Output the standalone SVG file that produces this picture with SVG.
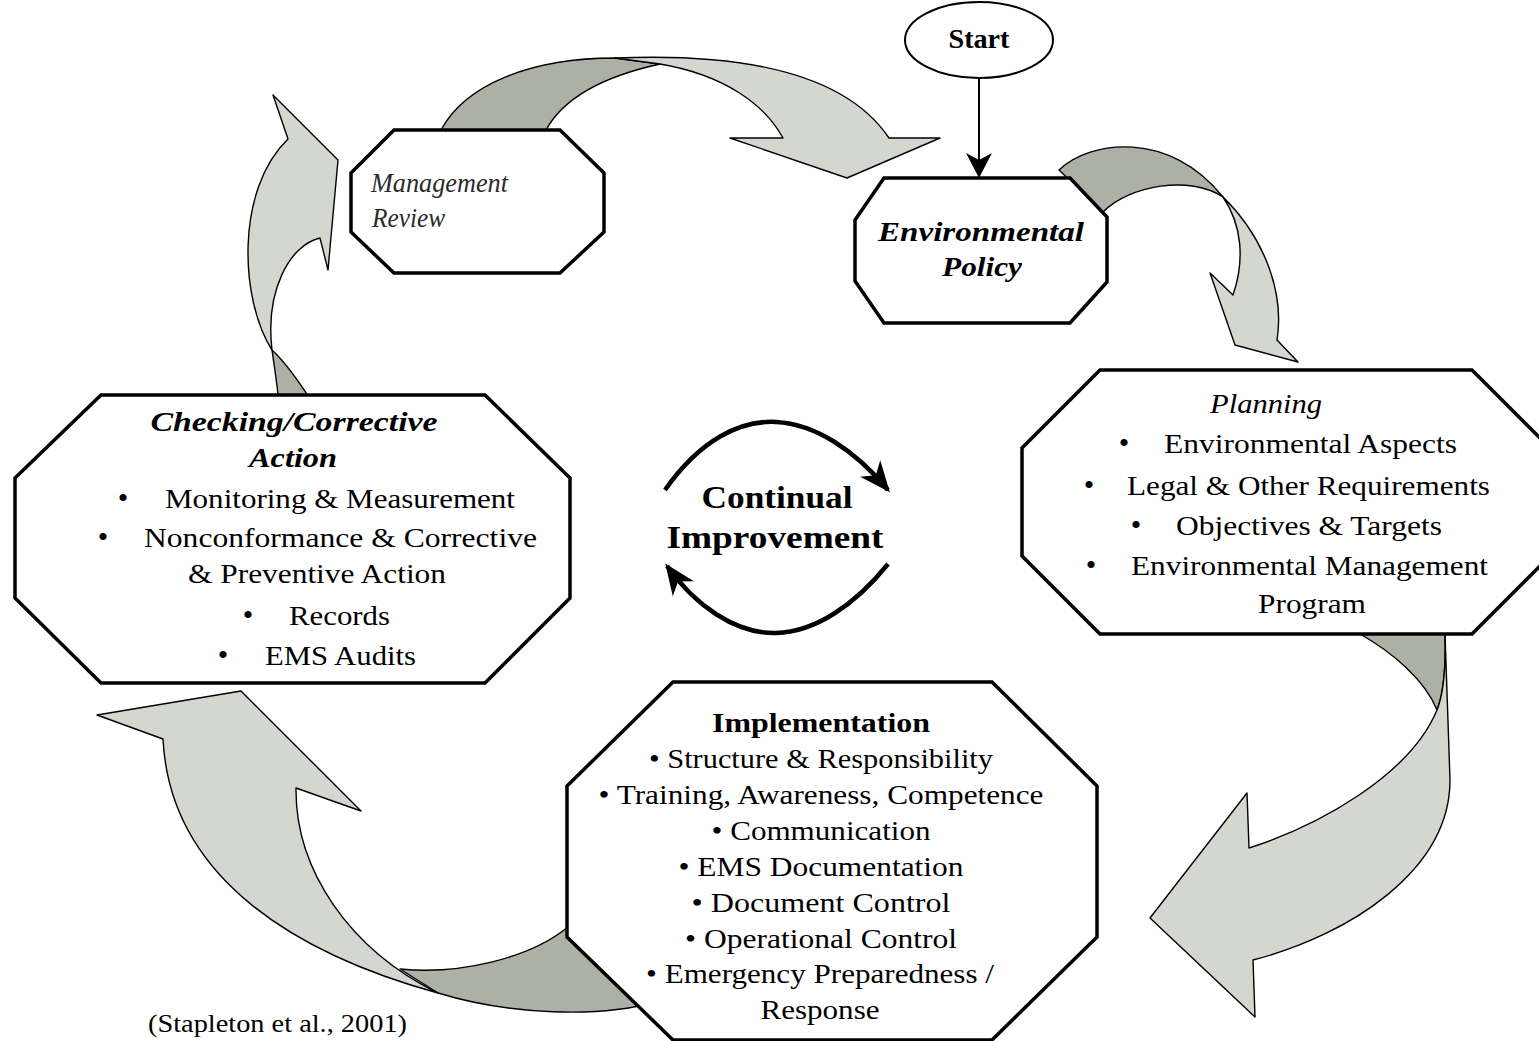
<svg xmlns="http://www.w3.org/2000/svg" width="1539" height="1041" viewBox="0 0 1539 1041">
<style>
  .oct{fill:#fff;stroke:#000;stroke-width:3.5;stroke-linejoin:miter}
  .rl{fill:#d4d6d0;stroke:#000;stroke-width:1.4;stroke-linejoin:round}
  .rd{fill:#adb0a5;stroke:#000;stroke-width:1.4;stroke-linejoin:round}
  text{font-family:"Liberation Serif","Times New Roman",serif;fill:#000}
  .t{font-size:28px}
  .b{font-weight:bold}
  .i{font-style:italic}
  .c{text-anchor:middle}
  .grey{fill:#2a2a2a}
  .bul{font-size:30px;text-anchor:middle}
  .cyc{fill:none;stroke:#000;stroke-width:4.5;marker-end:url(#head)}
</style>
<defs>
  <marker id="head" markerUnits="userSpaceOnUse" viewBox="-32 -16 36 32" markerWidth="36" markerHeight="32" refX="0" refY="0" orient="auto">
    <path d="M3,0 L-28,-13 L-19,0 L-28,13 Z" fill="#000"/>
  </marker>
  <marker id="head-s" markerUnits="userSpaceOnUse" viewBox="-26 -14 30 28" markerWidth="30" markerHeight="28" refX="0" refY="0" orient="auto">
    <path d="M2,0 L-23,-13 L-16,0 L-23,13 Z" fill="#000"/>
  </marker>
</defs>
<rect width="1539" height="1041" fill="#fff"/>

<!-- connectors: ribbon block arrows (back face dark, front face light) and the start arrow -->
<g id="connectors">
  <g id="arrow-review-to-policy">
    <path class="rd" d="M441,136 L441,130 C465,85 530,58 615,58 L660,64 C610,75 565,95 546,130 L546,136 Z"/>
    <path class="rl" d="M615,58 C760,52 850,80 889,138 L940,138 L847,178 L730,138 L783,138 C765,105 725,75 660,64 Z"/>
  </g>
  <g id="arrow-policy-to-planning">
    <path class="rd" d="M1059,170 C1090,140 1170,130 1223,197 C1190,175 1130,185 1103,212 Z"/>
    <path class="rl" d="M1223,197 C1262,235 1285,290 1277,340 L1298,362 L1235,345 L1210,273 L1233,295 C1245,260 1242,225 1223,197 Z"/>
  </g>
  <g id="arrow-planning-to-implementation">
    <path class="rd" d="M1360,628 L1360,634 C1392,652 1425,680 1437,710 C1443,695 1446,670 1445,634 L1445,628 Z"/>
    <path class="rl" d="M1445,634 L1450,780 C1450,870 1350,935 1253,960 L1255,1017 L1150,918 L1247,793 L1249,848 C1320,825 1410,775 1437,710 C1443,695 1446,670 1445,634 Z"/>
  </g>
  <g id="arrow-implementation-to-checking">
    <path class="rd" d="M400,969 C460,975 530,958 568,927 L620,900 L655,1002 C600,1018 510,1015 438,993 Z"/>
    <path class="rl" d="M438,993 C300,955 170,880 163,739 L97,715 L241,691 L361,811 L296,788 C295,870 350,950 438,993 Z"/>
  </g>
  <g id="arrow-checking-to-review">
    <path class="rd" d="M272,350 C275,370 277,385 279,402 L312,402 C298,380 285,362 272,350 Z"/>
    <path class="rl" d="M272,350 C240,300 235,190 288,139 L273,95 L338,160 L328,270 L320,238 C290,245 265,290 272,350 Z"/>
  </g>
  <line id="arrow-start-to-policy" x1="979" y1="79" x2="979" y2="176" stroke="#000" stroke-width="2" marker-end="url(#head-s)"/>
</g>

<g id="start">
  <ellipse cx="979" cy="40" rx="74" ry="38" fill="#fff" stroke="#000" stroke-width="2"/>
  <text class="b c" x="979" y="48" font-size="27" textLength="61" lengthAdjust="spacingAndGlyphs">Start</text>
</g>

<g id="environmental-policy">
  <polygon class="oct" points="884,178 1070,178 1107,217 1107,282 1070,323 884,323 855,281 855,220"/>
  <text class="t b i c" x="981" y="241" textLength="206" lengthAdjust="spacingAndGlyphs">Environmental</text>
  <text class="t b i c" x="982" y="276" textLength="80" lengthAdjust="spacingAndGlyphs">Policy</text>
</g>

<g id="management-review">
  <polygon class="oct" points="394,130 560,130 604,173 604,232 560,273 394,273 351,232 351,173"/>
  <text class="i grey" x="371" y="192" font-size="28" textLength="137" lengthAdjust="spacingAndGlyphs">Management</text>
  <text class="i grey" x="372" y="227" font-size="28" textLength="73" lengthAdjust="spacingAndGlyphs">Review</text>
</g>

<g id="planning">
  <polygon class="oct" points="1100,370 1472,370 1550,448 1550,556 1472,634 1100,634 1022,556 1022,448"/>
  <text class="t i" x="1210" y="413" font-size="29" textLength="112" lengthAdjust="spacingAndGlyphs">Planning</text>
  <text class="bul" x="1124" y="453">•</text>
  <text class="t" x="1164" y="453" textLength="293" lengthAdjust="spacingAndGlyphs">Environmental Aspects</text>
  <text class="bul" x="1089" y="495">•</text>
  <text class="t" x="1127" y="495" textLength="363" lengthAdjust="spacingAndGlyphs">Legal &amp; Other Requirements</text>
  <text class="bul" x="1136" y="535">•</text>
  <text class="t" x="1176" y="535" textLength="266" lengthAdjust="spacingAndGlyphs">Objectives &amp; Targets</text>
  <text class="bul" x="1091" y="575">•</text>
  <text class="t" x="1131" y="575" textLength="357" lengthAdjust="spacingAndGlyphs">Environmental Management</text>
  <text class="t c" x="1312" y="613" textLength="108" lengthAdjust="spacingAndGlyphs">Program</text>
</g>

<g id="checking-corrective-action">
  <polygon class="oct" points="101,395 485,395 570,478 570,598 485,683 101,683 15,598 15,478"/>
  <text class="t b i c" x="294" y="431" textLength="287" lengthAdjust="spacingAndGlyphs">Checking/Corrective</text>
  <text class="t b i c" x="293" y="467" textLength="88" lengthAdjust="spacingAndGlyphs">Action</text>
  <text class="bul" x="123" y="508">•</text>
  <text class="t" x="165" y="508" textLength="350" lengthAdjust="spacingAndGlyphs">Monitoring &amp; Measurement</text>
  <text class="bul" x="103" y="547">•</text>
  <text class="t" x="144" y="547" textLength="393" lengthAdjust="spacingAndGlyphs">Nonconformance &amp; Corrective</text>
  <text class="t" x="188" y="583" textLength="258" lengthAdjust="spacingAndGlyphs">&amp; Preventive Action</text>
  <text class="bul" x="248" y="625">•</text>
  <text class="t" x="289" y="625" textLength="101" lengthAdjust="spacingAndGlyphs">Records</text>
  <text class="bul" x="223" y="665">•</text>
  <text class="t" x="265" y="665" textLength="151" lengthAdjust="spacingAndGlyphs">EMS Audits</text>
</g>

<g id="implementation">
  <polygon class="oct" points="673,682 992,682 1097,786 1097,937 992,1040 673,1040 567,937 567,786"/>
  <text class="t b c" x="821" y="732" textLength="218" lengthAdjust="spacingAndGlyphs">Implementation</text>
  <text class="t c" x="821" y="768" textLength="344" lengthAdjust="spacingAndGlyphs">• Structure &amp; Responsibility</text>
  <text class="t c" x="821" y="804" textLength="445" lengthAdjust="spacingAndGlyphs">• Training, Awareness, Competence</text>
  <text class="t c" x="821" y="840" textLength="219" lengthAdjust="spacingAndGlyphs">• Communication</text>
  <text class="t c" x="821" y="876" textLength="285" lengthAdjust="spacingAndGlyphs">• EMS Documentation</text>
  <text class="t c" x="821" y="912" textLength="259" lengthAdjust="spacingAndGlyphs">• Document Control</text>
  <text class="t c" x="821" y="948" textLength="272" lengthAdjust="spacingAndGlyphs">• Operational Control</text>
  <text class="t c" x="820" y="983" textLength="348" lengthAdjust="spacingAndGlyphs">• Emergency Preparedness /</text>
  <text class="t c" x="820" y="1019" textLength="119" lengthAdjust="spacingAndGlyphs">Response</text>
</g>

<g id="continual-improvement">
  <path class="cyc" d="M665,490 C700,440 740,420 776,422 C815,424 855,450 888,490"/>
  <path class="cyc" d="M888,564 C855,605 815,632 776,633 C735,634 695,605 667,566"/>
  <text class="b c" x="777" y="508" font-size="32" textLength="151" lengthAdjust="spacingAndGlyphs">Continual</text>
  <text class="b c" x="775" y="548" font-size="32" textLength="217" lengthAdjust="spacingAndGlyphs">Improvement</text>
</g>

<g id="citation">
  <text x="148" y="1032" font-size="26" textLength="259" lengthAdjust="spacingAndGlyphs">(Stapleton et al., 2001)</text>
</g>
</svg>
